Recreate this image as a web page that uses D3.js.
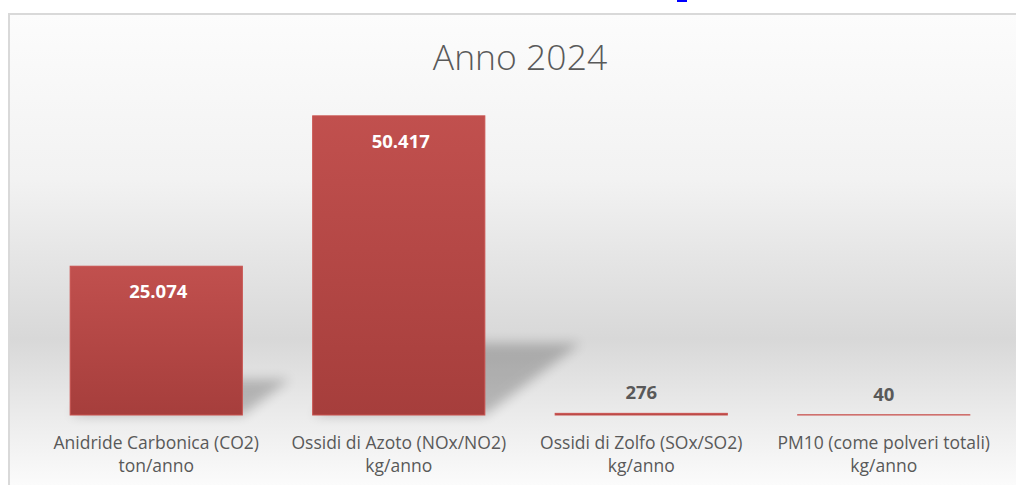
<!DOCTYPE html>
<html><head><meta charset="utf-8">
<script src="https://cdn.jsdelivr.net/npm/d3@7"></script>
<style>
html,body{margin:0;padding:0;background:#fff;}
svg{display:block;}
</style></head>
<body>
<svg id="chart" width="1016" height="485"></svg>
<script>
const title = "Anno 2024";
const categories = ["Anidride Carbonica (CO2)", "Ossidi di Azoto (NOx/NO2)", "Ossidi di Zolfo (SOx/SO2)", "PM10 (come polveri totali)"];
const units = ["ton/anno", "kg/anno", "kg/anno", "kg/anno"];
const values = [25074, 50417, 276, 40];
const yDomain = [0, 60000];

const W = 1016, H = 485;
const svg = d3.select("#chart");
const defs = svg.append("defs");
const FONT = "'Open Sans', 'Liberation Sans', sans-serif";

// background gradient
const bg = defs.append("linearGradient").attr("id","bg")
  .attr("gradientUnits","userSpaceOnUse").attr("x1",0).attr("y1",15).attr("x2",0).attr("y2",485);
[[0,"#fcfcfc"],[0.35,"#f2f2f2"],[0.69,"#d8d8d8"],[0.85,"#ebebeb"],[1,"#fbfbfb"]]
  .forEach(([o,c])=>bg.append("stop").attr("offset",o).attr("stop-color",c));

const barGrad = defs.append("linearGradient").attr("id","barGrad").attr("x1",0).attr("y1",0).attr("x2",0).attr("y2",1);
barGrad.append("stop").attr("offset",0).attr("stop-color","#c1504e");
barGrad.append("stop").attr("offset",1).attr("stop-color","#a63e3c");

const blur = defs.append("filter").attr("id","blur").attr("x","-50%").attr("y","-50%").attr("width","200%").attr("height","200%");
blur.append("feGaussianBlur").attr("stdDeviation",6);

// blue fragment at top
svg.append("rect").attr("x",677).attr("y",0).attr("width",10).attr("height",2).attr("fill","#0000ff");

// chart area
svg.append("rect").attr("x",9).attr("y",14).attr("width",W+20).attr("height",H+20)
  .attr("fill","url(#bg)").attr("stroke","#d9d9d9").attr("stroke-width",2);

const x = d3.scaleBand().domain(categories).range([35, 1005]).paddingInner(0.29).paddingOuter(0.145);
const y = d3.scaleLinear().domain(yDomain).range([415, 59]);

svg.append("text").attr("x",520).attr("y",70).attr("text-anchor","middle")
  .attr("font-family",FONT).attr("font-weight",300).attr("font-size",35.5).attr("fill","#595959").text(title);

const data = categories.map((c,i)=>({c, u:units[i], v:values[i]}));
const fmt = d3.formatLocale({decimal:",", thousands:".", grouping:[3], currency:["€",""]}).format(",");

// shadows
svg.append("g").selectAll("path").data(data).join("path")
  .attr("d", d=>{
    const x0 = x(d.c), x1 = x0 + x.bandwidth(), b = y(0), h = y(0) - y(d.v);
    const k = 0.24*h, dx = 0.32*h;
    return `M${x0},${b}L${x1},${b}L${x1+dx},${b-k}L${x0+dx},${b-k}Z`;
  })
  .attr("fill","#000").attr("opacity",0.22).attr("filter","url(#blur)");

// bars
svg.append("g").selectAll("rect").data(data).join("rect")
  .attr("x", d=>x(d.c)).attr("y", d=>y(d.v))
  .attr("width", x.bandwidth()).attr("height", d=>y(0)-y(d.v))
  .attr("fill","url(#barGrad)").attr("stroke","#c9524f").attr("stroke-width",1);

// value labels
svg.append("g").selectAll("text").data(data).join("text")
  .attr("x", d=>x(d.c)+x.bandwidth()/2 + ((y(0)-y(d.v) > 40) ? 2 : 0))
  .attr("y", d=> (y(0)-y(d.v) > 40) ? y(d.v)+32 : y(d.v)-14)
  .attr("text-anchor","middle").attr("font-family",FONT).attr("font-weight",700).attr("font-size",18.5)
  .attr("fill", d=> (y(0)-y(d.v) > 40) ? "#ffffff" : "#595959")
  .text(d=>fmt(d.v));

// x axis
const ax = svg.append("g").attr("transform","translate(0,415)")
  .call(d3.axisBottom(x).tickSize(0).tickPadding(0));
ax.select(".domain").remove();
ax.selectAll(".tick text").each(function(c){
  const t = d3.select(this);
  const i = categories.indexOf(c);
  t.text(null).attr("y",null).attr("dy",null)
   .attr("font-family",FONT).attr("font-size",17.5).attr("fill","#595959");
  t.append("tspan").attr("x",0).attr("y",34).text(c);
  t.append("tspan").attr("x",0).attr("y",57).text(units[i]);
});
</script>
</body></html>
